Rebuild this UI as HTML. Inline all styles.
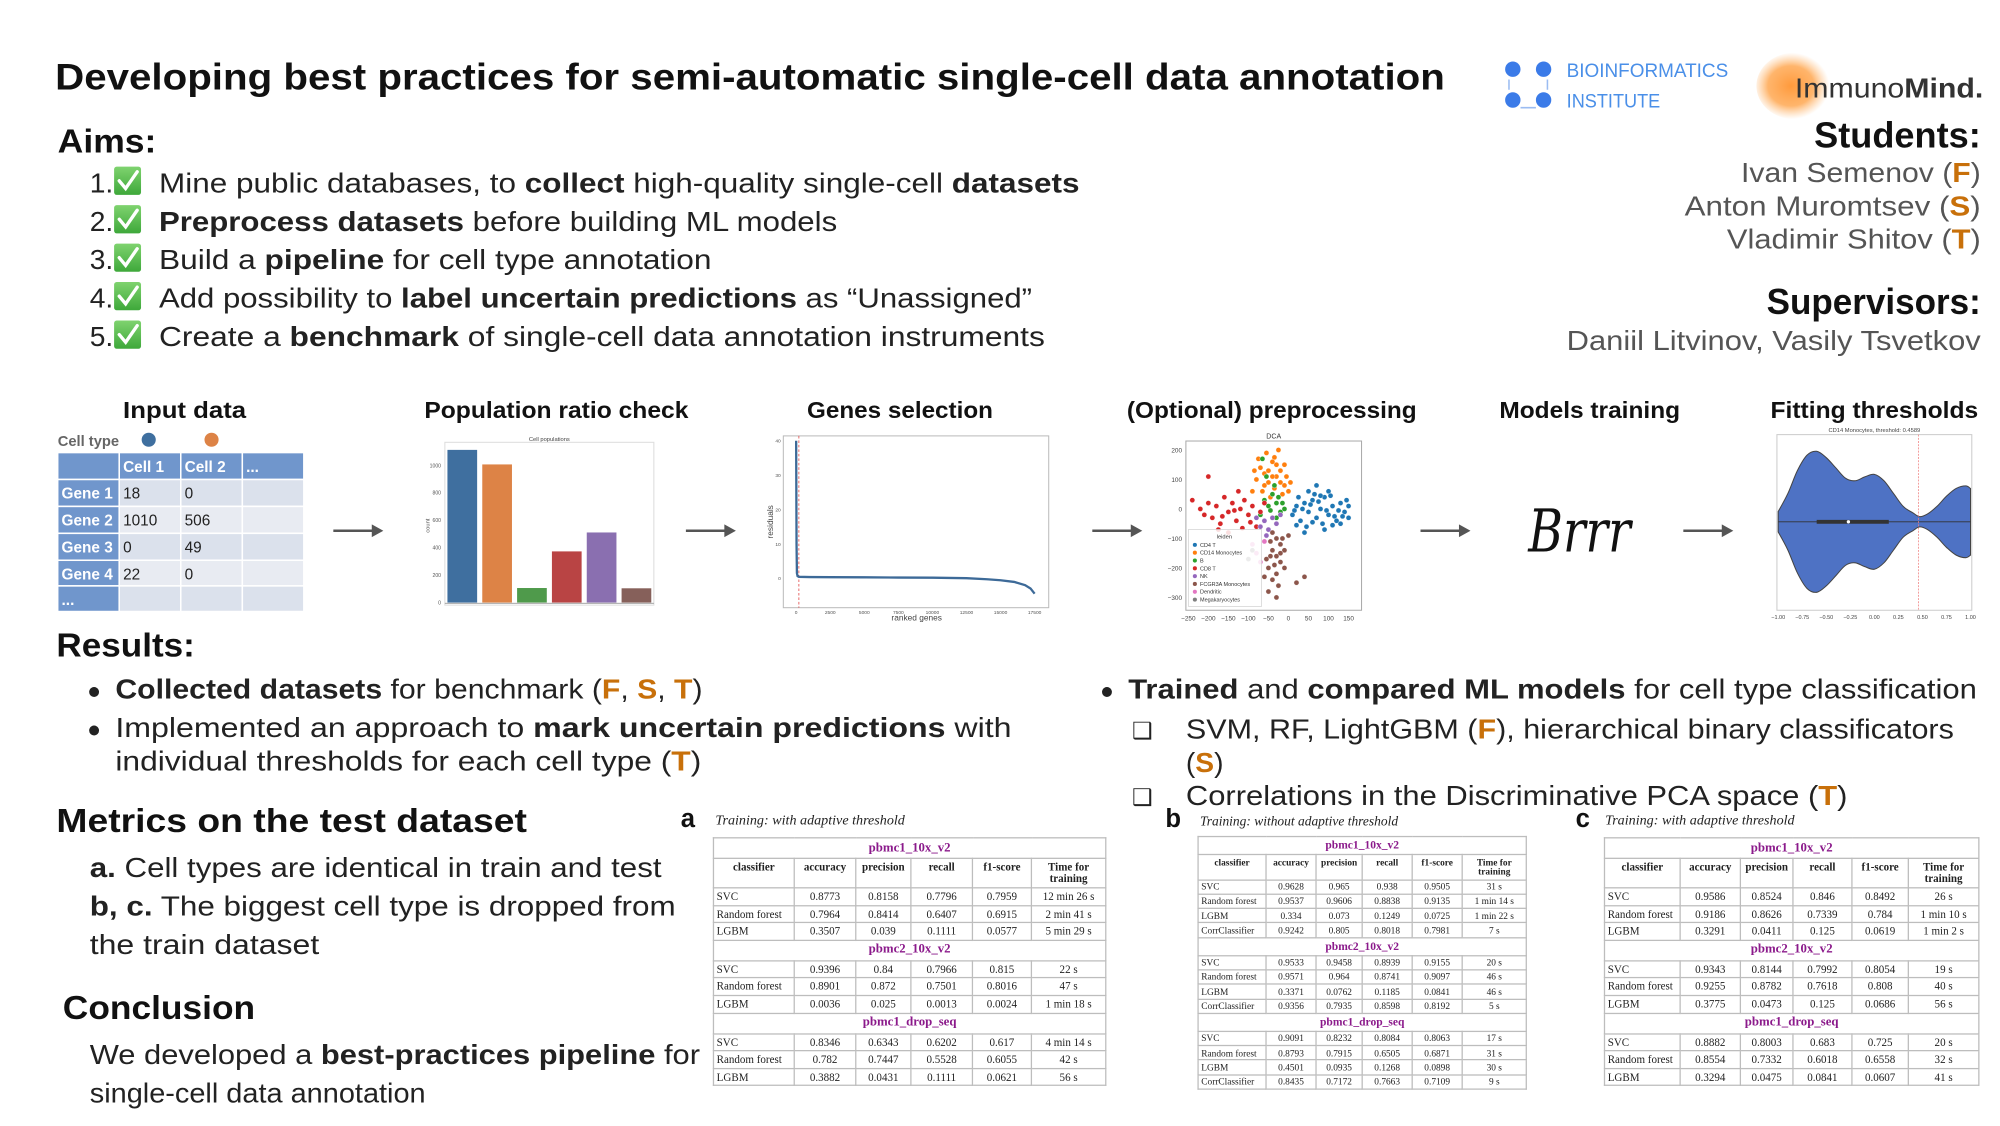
<!DOCTYPE html>
<html><head><meta charset="utf-8">
<style>
html,body{margin:0;padding:0;background:#fff;width:2000px;height:1125px;overflow:hidden}
#poster{position:absolute;left:0;top:0;width:1560px;height:878px;transform:scale(1.282051);transform-origin:0 0;background:#fff}
svg text{font-family:"Liberation Sans",sans-serif}
.mt{position:absolute;border-collapse:collapse;table-layout:fixed;font-family:"Liberation Serif",serif;color:#222}
.mt td{border:1px solid #bdbdbd;padding:0 2px;text-align:center;white-space:nowrap;overflow:hidden;line-height:1}
.mt td.l{text-align:left}
.mt tr.ds td{color:#8b1a8b;font-weight:bold}
.mt tr.hd td{font-weight:bold;vertical-align:top;padding-top:2px;white-space:normal}
.cap{position:absolute;font-family:"Liberation Serif",serif;font-style:italic;color:#222}
</style></head><body>
<div id="poster">
<svg id="main" width="1560" height="878" viewBox="0 0 1560 878" style="position:absolute;left:0;top:0">
<defs>
<radialGradient id="og" cx="0.45" cy="0.5" r="0.5"><stop offset="0" stop-color="#ff9a3c"/><stop offset="0.6" stop-color="#ffa852" stop-opacity="0.85"/><stop offset="1" stop-color="#ffc080" stop-opacity="0"/></radialGradient>
<linearGradient id="cg" x1="0" y1="0" x2="0" y2="1"><stop offset="0" stop-color="#7fd36f"/><stop offset="1" stop-color="#3ea83a"/></linearGradient>
</defs>
<!-- header -->
<text x="43" y="70" font-size="29" font-weight="bold" fill="#111" textLength="1084" lengthAdjust="spacingAndGlyphs">Developing best practices for semi-automatic single-cell data annotation</text>
<g>
<circle cx="1180" cy="54" r="6" fill="#3b7be8"/><circle cx="1204" cy="54" r="6" fill="#3b7be8"/>
<circle cx="1180" cy="78" r="6" fill="#3b7be8"/><circle cx="1204" cy="78" r="6" fill="#3b7be8"/>
<path d="M1177 62 v8 M1207 62 v8 M1186 84 h12" stroke="#9bbcf2" stroke-width="1.2" fill="none"/>
<text x="1222" y="60" font-size="15" fill="#4a8fe8" textLength="126" lengthAdjust="spacingAndGlyphs">BIOINFORMATICS</text>
<text x="1222" y="84" font-size="15" fill="#4a8fe8" textLength="73" lengthAdjust="spacingAndGlyphs">INSTITUTE</text>
</g>
<g>
<ellipse cx="1400" cy="67" rx="30" ry="26" fill="url(#og)"/>
<text x="1400" y="76" font-size="22" fill="#333" textLength="147" lengthAdjust="spacingAndGlyphs">Immuno<tspan font-weight="bold">Mind.</tspan></text>
</g>
<!-- aims -->
<text x="45" y="119" font-size="26" font-weight="bold" fill="#111" textLength="77" lengthAdjust="spacingAndGlyphs">Aims:</text>
<g id="aims" font-size="22" fill="#222">
<text x="70" y="150">1.</text><text x="124" y="150" textLength="718" lengthAdjust="spacingAndGlyphs">Mine public databases, to <tspan font-weight="bold">collect</tspan> high-quality single-cell <tspan font-weight="bold">datasets</tspan></text>
<text x="70" y="180">2.</text><text x="124" y="180" textLength="529" lengthAdjust="spacingAndGlyphs"><tspan font-weight="bold">Preprocess datasets</tspan> before building ML models</text>
<text x="70" y="210">3.</text><text x="124" y="210" textLength="431" lengthAdjust="spacingAndGlyphs">Build a <tspan font-weight="bold">pipeline</tspan> for cell type annotation</text>
<text x="70" y="240">4.</text><text x="124" y="240" textLength="681" lengthAdjust="spacingAndGlyphs">Add possibility to <tspan font-weight="bold">label uncertain predictions</tspan> as “Unassigned”</text>
<text x="70" y="270">5.</text><text x="124" y="270" textLength="691" lengthAdjust="spacingAndGlyphs">Create a <tspan font-weight="bold">benchmark</tspan> of single-cell data annotation instruments</text>
</g>
<!-- students -->
<g text-anchor="end">
<text x="1545" y="115" font-size="28" font-weight="bold" fill="#111" textLength="130" lengthAdjust="spacingAndGlyphs">Students:</text>
<text x="1545" y="142" font-size="22" fill="#555" textLength="187" lengthAdjust="spacingAndGlyphs">Ivan Semenov (<tspan fill="#c8700a" font-weight="bold">F</tspan>)</text>
<text x="1545" y="168" font-size="22" fill="#555" textLength="231" lengthAdjust="spacingAndGlyphs">Anton Muromtsev (<tspan fill="#c8700a" font-weight="bold">S</tspan>)</text>
<text x="1545" y="194" font-size="22" fill="#555" textLength="198" lengthAdjust="spacingAndGlyphs">Vladimir Shitov (<tspan fill="#c8700a" font-weight="bold">T</tspan>)</text>
<text x="1545" y="245" font-size="28" font-weight="bold" fill="#111" textLength="167" lengthAdjust="spacingAndGlyphs">Supervisors:</text>
<text x="1545" y="273" font-size="22" fill="#555" textLength="323" lengthAdjust="spacingAndGlyphs">Daniil Litvinov, Vasily Tsvetkov</text>
</g>
<!-- pipeline headings -->
<g font-size="18" font-weight="bold" fill="#111" text-anchor="middle">
<text x="144" y="326" textLength="96" lengthAdjust="spacingAndGlyphs">Input data</text>
<text x="434" y="326" textLength="206" lengthAdjust="spacingAndGlyphs">Population ratio check</text>
<text x="702" y="326" textLength="145" lengthAdjust="spacingAndGlyphs">Genes selection</text>
<text x="992" y="326" textLength="226" lengthAdjust="spacingAndGlyphs">(Optional) preprocessing</text>
<text x="1240" y="326" textLength="141" lengthAdjust="spacingAndGlyphs">Models training</text>
<text x="1462" y="326" textLength="162" lengthAdjust="spacingAndGlyphs">Fitting thresholds</text>
</g>
<g id="arrows"></g>
<g id="inputTable"></g>
<g id="barChart"></g>
<g id="geneChart"></g>
<g id="scatter"></g>
<text x="1232" y="430" font-size="46" font-style="italic" text-anchor="middle" fill="#111" style="font-family:'DejaVu Serif','Liberation Serif',serif" textLength="80" lengthAdjust="spacingAndGlyphs">Brrr</text>
<g id="violin"></g>
<!-- results -->
<text x="44" y="512" font-size="26" font-weight="bold" fill="#111" textLength="108" lengthAdjust="spacingAndGlyphs">Results:</text>
<g font-size="22" fill="#222">
<text x="68" y="545" font-size="18">●</text>
<text x="90" y="545" textLength="458" lengthAdjust="spacingAndGlyphs"><tspan font-weight="bold">Collected datasets</tspan> for benchmark (<tspan fill="#c8700a" font-weight="bold">F</tspan>, <tspan fill="#c8700a" font-weight="bold">S</tspan>, <tspan fill="#c8700a" font-weight="bold">T</tspan>)</text>
<text x="68" y="575" font-size="18">●</text>
<text x="90" y="575" textLength="699" lengthAdjust="spacingAndGlyphs">Implemented  an approach to <tspan font-weight="bold">mark uncertain predictions</tspan> with</text>
<text x="90" y="601" textLength="457" lengthAdjust="spacingAndGlyphs">individual thresholds  for each cell type (<tspan fill="#c8700a" font-weight="bold">T</tspan>)</text>
</g>
<g font-size="22" fill="#222">
<text x="858" y="545" font-size="18">●</text>
<text x="880" y="545" textLength="662" lengthAdjust="spacingAndGlyphs"><tspan font-weight="bold">Trained</tspan> and <tspan font-weight="bold">compared ML models</tspan> for cell type classification</text>
<text x="883" y="576" font-size="18">❑</text>
<text x="925" y="576" textLength="599" lengthAdjust="spacingAndGlyphs">SVM, RF, LightGBM (<tspan fill="#c8700a" font-weight="bold">F</tspan>), hierarchical binary classificators</text>
<text x="925" y="602">(<tspan fill="#c8700a" font-weight="bold">S</tspan>)</text>
<text x="883" y="628" font-size="18">❑</text>
<text x="925" y="628" textLength="516" lengthAdjust="spacingAndGlyphs">Correlations in the Discriminative PCA space (<tspan fill="#c8700a" font-weight="bold">T</tspan>)</text>
</g>
<text x="44" y="649" font-size="26" font-weight="bold" fill="#111" textLength="367" lengthAdjust="spacingAndGlyphs">Metrics on the test dataset</text>
<g font-size="22" fill="#222">
<text x="70" y="684" textLength="446" lengthAdjust="spacingAndGlyphs"><tspan font-weight="bold">a.</tspan> Cell types are identical in train and test</text>
<text x="70" y="714" textLength="457" lengthAdjust="spacingAndGlyphs"><tspan font-weight="bold">b, c.</tspan> The biggest cell type is dropped from</text>
<text x="70" y="744" textLength="179" lengthAdjust="spacingAndGlyphs">the train dataset</text>
</g>
<text x="49" y="795" font-size="26" font-weight="bold" fill="#111" textLength="150" lengthAdjust="spacingAndGlyphs">Conclusion</text>
<g font-size="22" fill="#222">
<text x="70" y="830" textLength="476" lengthAdjust="spacingAndGlyphs">We developed a <tspan font-weight="bold">best-practices pipeline</tspan> for</text>
<text x="70" y="860" textLength="262" lengthAdjust="spacingAndGlyphs">single-cell data annotation</text>
</g>
<g font-size="20" font-weight="bold" fill="#111">
<text x="531" y="645">a</text><text x="909" y="645">b</text><text x="1229" y="645">c</text>
</g>
</svg>
<div class="cap" style="left:558px;top:634px;font-size:11px">Training: with adaptive  threshold</div>
<div class="cap" style="left:936px;top:636px;font-size:10.5px">Training: without adaptive  threshold</div>
<div class="cap" style="left:1252px;top:634px;font-size:11px">Training: with adaptive  threshold</div>
</div>
<script>
const NS="http://www.w3.org/2000/svg";
function mk(tag,attrs,parent){const e=document.createElementNS(NS,tag);for(const k in attrs)e.setAttribute(k,attrs[k]);if(parent)parent.appendChild(e);return e;}

// ---------- checkmarks ----------
const aims=document.getElementById('aims');
[150,180,210,240,270].forEach(function(y){
  const g=mk('g',{},aims);
  
  
  mk('rect',{x:89,y:y-20,width:21,height:22,rx:2,fill:'url(#cg)'},g);
  mk('path',{d:`M${93} ${y-9} l5 6 l9 -13`,stroke:'#fff','stroke-width':2.6,fill:'none','stroke-linecap':'round'},g);
});

// ---------- arrows ----------
const arrowsG=document.getElementById('arrows');
const arrowX=[260,535,852,1108,1313];
arrowX.forEach(function(x){
  const a=mk('g',{},arrowsG);
  
  
  mk('line',{x1:x,y1:414,x2:x+32,y2:414,stroke:'#555','stroke-width':2},a);
  mk('path',{d:`M${x+30} 409 L${x+39} 414 L${x+30} 419 Z`,fill:'#555'},a);
});

// ---------- input data table ----------
const inHead=['','Cell 1','Cell 2','...'];
const inRows=[['Gene 1','18','0',''],['Gene 2','1010','506',''],['Gene 3','0','49',''],['Gene 4','22','0',''],['...','','','']];
(function(){
  const g=document.getElementById('inputTable');
  const t=mk('text',{x:45,y:348,'font-size':11.5,'font-weight':'bold',fill:'#666'},g);t.textContent='Cell type';
  const c1=mk('circle',{cx:116,cy:343,r:5.5,fill:'#3f6f9f'},g);
  
  
  const c2=mk('circle',{cx:165,cy:343,r:5.5,fill:'#dd8346'},g);
  
  
  const cx=[45,93,141,189,237], ry=[353,374,395,416,437,457,477];
  const all=[inHead].concat(inRows);
  all.forEach(function(row,r){
    row.forEach(function(v,c){
      const blue=(r===0||c===0);
      const fill=blue?'#7096cc':(r%2? '#dbe1ec':'#e8ebf2');
      mk('rect',{x:cx[c],y:ry[r],width:cx[c+1]-cx[c],height:ry[r+1]-ry[r],fill:fill,stroke:'#fff','stroke-width':1.2},g);
      if(v){const tx=mk('text',{x:cx[c]+3,y:ry[r]+15,'font-size':12,'font-weight':blue?'bold':'normal',fill:blue?'#fff':'#222'},g);tx.textContent=v;}
    });
  });
})();

// ---------- bar chart ----------
const barCats=['CD4 T','CD14 Monocytes','B','CD8 T','NK','FCGR3A Monocytes'];
const barVals=[1113,1007,106,373,511,104];
const barTicks=[0,200,400,600,800,1000];
const barColors=['#3f6f9f','#dd8346','#4f9a4b','#b94444','#8a6fb0','#86605a'];
(function(){
  const g=document.getElementById('barChart');
  const L=347,R=510,T=345,B=472;
  const y=v=>470-v*0.107;
  const bw=(R-L)/barCats.length;
  mk('rect',{x:L,y:T,width:R-L,height:B-T,fill:'#fff',stroke:'#ddd','stroke-width':0.8},g);
  const tt=mk('text',{x:(L+R)/2,y:T-1,'font-size':4.5,'text-anchor':'middle',fill:'#444'},g);tt.textContent='Cell populations';
  barTicks.forEach(function(v){const t=mk('text',{x:L-3,y:y(v)+1.5,'font-size':4,'text-anchor':'end',fill:'#555'},g);t.textContent=v;});
  const yl=mk('text',{x:335,y:410,'font-size':4.5,fill:'#555',transform:'rotate(-90 335 410)','text-anchor':'middle'},g);yl.textContent='count';
  barVals.forEach(function(v,i){
    const r=mk('rect',{x:L+i*bw+2,y:y(v),width:bw-4,height:470-y(v),fill:barColors[i]},g);
    
    
  });
  mk('line',{x1:L,y1:470.5,x2:R,y2:470.5,stroke:'#888','stroke-width':0.6},g);
})();

// ---------- genes selection ----------
const geneRanks=[0,30,60,100,200,1000,2500,5000,7500,10000,12500,14000,15000,16000,16800,17200,17500];
const geneResid=[40,10,1.5,0.6,0.4,0.35,0.3,0.25,0.2,0.15,0.0,-0.3,-0.6,-1.1,-2.0,-3.0,-4.5];
const geneXTicks=[0,2500,5000,7500,10000,12500,15000,17500];
const geneYTicks=[0,10,20,30,40];
const geneCutoff=200;
(function(){
  const g=document.getElementById('geneChart');
  const L=611,R=818,T=340,B=474;
  const x=v=>621+v*(186/17500), y=v=>451-v*2.68;
  mk('rect',{x:L,y:T,width:R-L,height:B-T,fill:'#fff',stroke:'#bbb','stroke-width':0.8},g);
  geneXTicks.forEach(function(v){const t=mk('text',{x:x(v),y:B+5,'font-size':3.8,'text-anchor':'middle',fill:'#555'},g);t.textContent=v;});
  geneYTicks.forEach(function(v){const t=mk('text',{x:L-2,y:y(v)+1.5,'font-size':3.8,'text-anchor':'end',fill:'#555'},g);t.textContent=v;});
  const xl=mk('text',{x:715,y:484,'font-size':6.5,'text-anchor':'middle',fill:'#444'},g);xl.textContent='ranked genes';
  const yl=mk('text',{x:603,y:407,'font-size':6.5,fill:'#444',transform:'rotate(-90 603 407)','text-anchor':'middle'},g);yl.textContent='residuals';
  const cl=mk('line',{x1:x(geneCutoff),y1:T,x2:x(geneCutoff),y2:B,stroke:'#e04040','stroke-width':0.6,'stroke-dasharray':'2 1.5'},g);
  
  
  const d=geneRanks.map((r,i)=>(i?'L':'M')+x(r).toFixed(1)+' '+y(geneResid[i]).toFixed(1)).join(' ');
  const p=mk('path',{d:d,stroke:'#3d6a98','stroke-width':1.8,fill:'none'},g);
  
  
})();

// ---------- DCA scatter ----------
const dcaLabels=['CD4 T','CD14 Monocytes','B','CD8 T','NK','FCGR3A Monocytes','Dendritic','Megakaryocytes'];
const dcaColors=['#1f77b4','#ff7f0e','#2ca02c','#d62728','#9467bd','#8c564b','#e377c2','#7f7f7f'];
const dcaCD4T=[[10,-20],[20,10],[30,-40],[40,20],[50,-10],[60,30],[70,-30],[80,0],[90,40],[100,-20],[110,10],[120,-40],[130,20],[140,-10],[150,10],[25,40],[45,-60],[65,50],[85,-50],[105,45],[125,-5],[35,0],[55,15],[75,25],[95,-5],[115,-25],[135,-25],[60,-45],[90,-70],[40,-80],[20,-55],[145,30],[100,60],[70,80],[50,60],[15,-5],[110,-55],[130,-50],[80,45],[150,-30]];
const dcaCD14=[[-80,100],[-70,140],[-60,120],[-50,90],[-40,160],[-30,110],[-20,130],[-10,80],[-55,190],[-25,200],[-65,60],[-45,40],[-35,70],[-15,50],[-5,110],[-75,170],[-50,130],[-30,150],[-20,90],[-60,80],[0,60],[-90,60],[-40,110],[-10,150],[-35,175],[-85,130],[5,90]];
const dcaB=[[-60,30],[-50,10],[-40,50],[-30,20],[-20,-10],[-45,-5],[-35,80],[-55,110],[-25,40],[-15,20],[-65,170],[-70,-20],[-10,0],[-30,-30]];
const dcaCD8=[[-240,30],[-220,0],[-200,20],[-190,-30],[-180,10],[-170,-50],[-160,40],[-150,-10],[-140,20],[-130,-40],[-120,0],[-110,30],[-100,-20],[-90,10],[-80,-60],[-70,-10],[-60,20],[-200,110],[-175,-70],[-150,-80],[-125,60],[-95,-45],[-210,-20],[-115,-65],[-165,-25],[-135,-5]];
const dcaNK=[[-70,-60],[-60,-40],[-50,-70],[-40,-30],[-30,-50],[-80,-30],[-20,-20],[-55,-90]];
const dcaFCGR=[[-40,-80],[-30,-100],[-20,-120],[-40,-140],[-30,-160],[-20,-180],[-50,-200],[-30,-220],[-40,-240],[-25,-260],[-10,-140],[-15,-100],[-45,-110],[-35,-190],[-55,-170],[-10,-200],[-50,-280],[-30,-300],[-60,-230],[0,-90],[20,-250],[40,-230],[-20,-150],[-45,-160]];
const dcaDend=[[-80,-150],[-70,-180],[-90,-120],[-60,-110]];
const dcaMega=[[-90,-140],[-100,-170]];
const dcaXTicks=[-250,-200,-150,-100,-50,0,50,100,150];
const dcaYTicks=[200,100,0,-100,-200,-300];
(function(){
  const g=document.getElementById('scatter');
  const L=925,R=1062,T=344,B=476;
  const x=v=>1005+v*0.3125, y=v=>397-v*0.23;
  mk('rect',{x:L,y:T,width:R-L,height:B-T,fill:'#fff',stroke:'#aaa','stroke-width':0.8},g);
  const tt=mk('text',{x:(L+R)/2,y:T-2,'font-size':5.5,'text-anchor':'middle',fill:'#333'},g);tt.textContent='DCA';
  dcaXTicks.forEach(function(v){const t=mk('text',{x:x(v),y:B+8,'font-size':5,'text-anchor':'middle',fill:'#444'},g);t.textContent=String(v).replace('-','−');});
  dcaYTicks.forEach(function(v){const t=mk('text',{x:L-3,y:y(v)+2,'font-size':5,'text-anchor':'end',fill:'#444'},g);t.textContent=String(v).replace('-','−');});
  const series=[dcaCD4T,dcaCD14,dcaB,dcaCD8,dcaNK,dcaFCGR,dcaDend,dcaMega];
  series.forEach(function(pts,si){
    pts.forEach(function(p){
      const c=mk('circle',{cx:x(p[0]),cy:y(p[1]),r:2,fill:dcaColors[si],stroke:'#fff','stroke-width':0.3},g);
      
      
    });
  });
  const lg=mk('g',{},g);
  
  
  mk('rect',{x:927,y:413,width:57,height:60,fill:'#fff','fill-opacity':0.85,stroke:'#ccc','stroke-width':0.5},lg);
  const lt=mk('text',{x:955,y:420,'font-size':4.5,'text-anchor':'middle',fill:'#333'},lg);lt.textContent='leiden';
  dcaLabels.forEach(function(lbl,i){
    mk('circle',{cx:932,cy:425+i*6.1,r:1.6,fill:dcaColors[i]},lg);
    const t=mk('text',{x:936,y:426.5+i*6.1,'font-size':4.3,fill:'#333'},lg);t.textContent=lbl;
  });
})();

// ---------- violin ----------
const vioX=[-1,-0.9,-0.8,-0.7,-0.6,-0.5,-0.4,-0.3,-0.2,-0.1,0,0.1,0.2,0.3,0.4,0.47,0.55,0.65,0.75,0.85,0.95,1.0];
const vioDensity=[8,22,40,52,55,50,42,34,32,35,37,32,22,12,7,4,6,12,20,26,28,26];
const vioTicks=[-1,-0.75,-0.5,-0.25,0,0.25,0.5,0.75,1];
const vioThreshold=0.4589;
const vioQ1=-0.6, vioQ3=0.15, vioMedian=-0.27;
(function(){
  const g=document.getElementById('violin');
  const L=1386,R=1538,T=339,B=476,C=407;
  const x=v=>1387+(v+1)*75;
  mk('rect',{x:L,y:T,width:R-L,height:B-T,fill:'#fff',stroke:'#ccc','stroke-width':0.8},g);
  const tt=mk('text',{x:(L+R)/2,y:T-2,'font-size':4.5,'text-anchor':'middle',fill:'#444'},g);tt.textContent='CD14 Monocytes, threshold: 0.4589';
  vioTicks.forEach(function(v){const t=mk('text',{x:x(v),y:B+7,'font-size':4.3,'text-anchor':'middle',fill:'#444'},g);t.textContent=(v<0?'−':'')+Math.abs(v).toFixed(2);});
  // smooth path
  function pts(sign){return vioX.map((v,i)=>[x(v),C-sign*vioDensity[i]]);}
  function smooth(p){let d='M'+p[0][0]+' '+p[0][1];for(let i=0;i<p.length-1;i++){const p0=p[i-1]||p[i],p1=p[i],p2=p[i+1],p3=p[i+2]||p2;const c1=[p1[0]+(p2[0]-p0[0])/6,p1[1]+(p2[1]-p0[1])/6],c2=[p2[0]-(p3[0]-p1[0])/6,p2[1]-(p3[1]-p1[1])/6];d+=` C${c1[0].toFixed(1)} ${c1[1].toFixed(1)} ${c2[0].toFixed(1)} ${c2[1].toFixed(1)} ${p2[0].toFixed(1)} ${p2[1].toFixed(1)}`;}return d;}
  const top=pts(1), bot=pts(-1).reverse();
  const d=smooth(top)+' L'+bot[0][0]+' '+bot[0][1]+smooth(bot).slice(smooth(bot).indexOf('C')-1)+' Z';
  const body=mk('path',{d:d,fill:'#4e72c4',stroke:'#444','stroke-width':0.8},g);
  
  
  mk('line',{x1:x(-1),y1:C,x2:x(1),y2:C,stroke:'#333','stroke-width':0.7},g);
  mk('line',{x1:x(vioQ1),y1:C,x2:x(vioQ3),y2:C,stroke:'#333','stroke-width':3},g);
  mk('circle',{cx:x(vioMedian),cy:C,r:1.3,fill:'#fff'},g);
  const th=mk('line',{x1:x(vioThreshold),y1:T,x2:x(vioThreshold),y2:B,stroke:'#f08080','stroke-width':0.6,'stroke-dasharray':'1.5 1'},g);
  
  
})();

// ---------- metric tables ----------
const tableAData=[
 ['pbmc1_10x_v2',[['SVC','0.8773','0.8158','0.7796','0.7959','12 min 26 s'],['Random forest','0.7964','0.8414','0.6407','0.6915','2 min 41 s'],['LGBM','0.3507','0.039','0.1111','0.0577','5 min 29 s']]],
 ['pbmc2_10x_v2',[['SVC','0.9396','0.84','0.7966','0.815','22 s'],['Random forest','0.8901','0.872','0.7501','0.8016','47 s'],['LGBM','0.0036','0.025','0.0013','0.0024','1 min 18 s']]],
 ['pbmc1_drop_seq',[['SVC','0.8346','0.6343','0.6202','0.617','4 min 14 s'],['Random forest','0.782','0.7447','0.5528','0.6055','42 s'],['LGBM','0.3882','0.0431','0.1111','0.0621','56 s']]]];
const tableBData=[
 ['pbmc1_10x_v2',[['SVC','0.9628','0.965','0.938','0.9505','31 s'],['Random forest','0.9537','0.9606','0.8838','0.9135','1 min 14 s'],['LGBM','0.334','0.073','0.1249','0.0725','1 min 22 s'],['CorrClassifier','0.9242','0.805','0.8018','0.7981','7 s']]],
 ['pbmc2_10x_v2',[['SVC','0.9533','0.9458','0.8939','0.9155','20 s'],['Random forest','0.9571','0.964','0.8741','0.9097','46 s'],['LGBM','0.3371','0.0762','0.1185','0.0841','46 s'],['CorrClassifier','0.9356','0.7935','0.8598','0.8192','5 s']]],
 ['pbmc1_drop_seq',[['SVC','0.9091','0.8232','0.8084','0.8063','17 s'],['Random forest','0.8793','0.7915','0.6505','0.6871','31 s'],['LGBM','0.4501','0.0935','0.1268','0.0898','30 s'],['CorrClassifier','0.8435','0.7172','0.7663','0.7109','9 s']]]];
const tableCData=[
 ['pbmc1_10x_v2',[['SVC','0.9586','0.8524','0.846','0.8492','26 s'],['Random forest','0.9186','0.8626','0.7339','0.784','1 min 10 s'],['LGBM','0.3291','0.0411','0.125','0.0619','1 min 2 s']]],
 ['pbmc2_10x_v2',[['SVC','0.9343','0.8144','0.7992','0.8054','19 s'],['Random forest','0.9255','0.8782','0.7618','0.808','40 s'],['LGBM','0.3775','0.0473','0.125','0.0686','56 s']]],
 ['pbmc1_drop_seq',[['SVC','0.8882','0.8003','0.683','0.725','20 s'],['Random forest','0.8554','0.7332','0.6018','0.6558','32 s'],['LGBM','0.3294','0.0475','0.0841','0.0607','41 s']]]];
const tableHead=['classifier','accuracy','precision','recall','f1-score','Time for training'];
function buildTable(name,data,left,top,widths,titleH,headH,rowH,fs,tfs){
  const t=document.createElement('table');
  t.className='mt';
  
  
  t.style.left=left+'px';t.style.top=top+'px';t.style.fontSize=fs+'px';
  t.style.width=widths.reduce((a,b)=>a+b,0)+'px';
  const cg=document.createElement('colgroup');
  widths.forEach(w=>{const c=document.createElement('col');c.style.width=w+'px';cg.appendChild(c);});
  t.appendChild(cg);
  data.forEach(function(sec,si){
    const tr=document.createElement('tr');tr.className='ds';tr.style.height=titleH+'px';
    const td=document.createElement('td');td.colSpan=6;td.textContent=sec[0];td.style.fontSize=tfs+'px';tr.appendChild(td);t.appendChild(tr);
    if(si===0){const h=document.createElement('tr');h.className='hd';h.style.height=headH+'px';tableHead.forEach(v=>{const c=document.createElement('td');c.textContent=v;h.appendChild(c);});t.appendChild(h);}
    sec[1].forEach(function(row){const r=document.createElement('tr');r.style.height=rowH+'px';row.forEach((v,i)=>{const c=document.createElement('td');c.textContent=v;if(i===0)c.className='l';r.appendChild(c);});t.appendChild(r);});
  });
  document.getElementById('poster').appendChild(t);
}
buildTable('metrics-table-a',tableAData,556,653,[63,48,43,48,46,58],16,23,13.6,8.6,10);
buildTable('metrics-table-b',tableBData,934,652,[53,39,36,39,39,50],14,19.5,11.3,7.3,9);
buildTable('metrics-table-c',tableCData,1251,653,[59,47,41,46,44,55],16,23,13.6,8.6,10);
</script>
</body></html>
